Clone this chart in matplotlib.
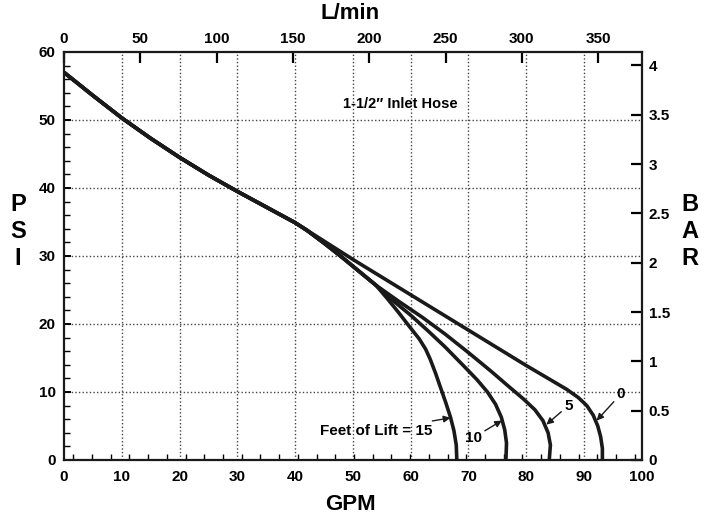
import matplotlib
matplotlib.use('Agg')
import matplotlib.pyplot as plt
import numpy as np

######################################################################

# PUMP CURVE DATA (GPM vs PSI)

trunk_gpm = [0, 5, 10, 15, 20, 25, 30, 35, 40]
trunk_psi = [57.0, 53.6, 50.3, 47.3, 44.5, 41.9, 39.5, 37.2, 34.9]

lift0_gpm = [45, 50, 55, 60, 65, 70, 75, 80, 84, 87, 89, 90.5, 91.6, 92.4, 92.9, 93.2, 93.2]
lift0_psi = [32.2, 29.5, 26.9, 24.3, 21.7, 19.1, 16.5, 13.9, 11.9, 10.4, 9.2, 8.0, 6.6, 5.0, 3.4, 1.7, 0]

bundle_gpm = [42, 45, 48, 50, 52, 54]
bundle_psi = [33.8, 31.9, 29.9, 28.5, 27.1, 25.7]

lift5_gpm = [58, 62, 66, 70, 74, 77, 79.5, 81.5, 82.9, 83.8, 84.2, 84.0]
lift5_psi = [23.3, 21.0, 18.5, 15.8, 13.0, 10.8, 9.0, 7.4, 5.8, 4.0, 2.2, 0]

lift10_gpm = [57, 60, 63, 66, 69, 71.5, 73.3, 74.7, 75.7, 76.3, 76.6, 76.5]
lift10_psi = [23.4, 21.3, 19.0, 16.6, 14.0, 11.8, 10.0, 8.2, 6.3, 4.4, 2.5, 0]

lift15_gpm = [56, 58, 60, 61.5, 62.6, 63.4, 64.3, 65.2, 66.1, 66.9, 67.5, 67.9, 68.0]
lift15_psi = [23.7, 21.6, 19.4, 17.8, 16.3, 14.8, 12.8, 10.6, 8.4, 6.3, 4.3, 2.2, 0]

gpm_ticks = np.arange(0, 101, 10)
psi_ticks = np.arange(0, 61, 10)
lpm_ticks = np.arange(0, 351, 50)
bar_ticks = np.arange(0, 4.01, 0.5)
bar_labels = ['0', '0.5', '1', '1.5', '2', '2.5', '3', '3.5', '4']

LPM_PER_GPM = 3.785411784
PSI_PER_BAR = 14.5037738

######################################################################

narrow = ['Liberation Sans Narrow', 'Liberation Sans', 'DejaVu Sans']
wide = ['Liberation Sans', 'DejaVu Sans']
plt.rcParams['font.family'] = narrow
plt.rcParams['font.weight'] = 'bold'

fig = plt.figure(figsize=(7.16, 5.21), dpi=100)
ax = fig.add_axes([0.0894, 0.1171, 0.8068, 0.7831])

line_kw = dict(color='#1a1a1a', lw=2.6, solid_joinstyle='round', solid_capstyle='butt', zorder=3)

ax.plot(trunk_gpm + lift0_gpm, trunk_psi + lift0_psi, **line_kw)
for gx, gy in [(lift5_gpm, lift5_psi), (lift10_gpm, lift10_psi), (lift15_gpm, lift15_psi)]:
    ax.plot(trunk_gpm + bundle_gpm + gx, trunk_psi + bundle_psi + gy, **line_kw)

ax.set_xlim(0, 100)
ax.set_ylim(0, 60)

# dotted grid
for g in gpm_ticks[1:-1]:
    ax.axvline(g, color='#444444', lw=1.0, ls=(0, (1, 1.6)), zorder=1)
for p in psi_ticks[1:-1]:
    ax.axhline(p, color='#444444', lw=1.0, ls=(0, (1, 1.6)), zorder=1)

for s in ax.spines.values():
    s.set_linewidth(1.6)
    s.set_color('#1a1a1a')

ax.set_xticks(gpm_ticks)
ax.set_xticks(np.arange(1.6, 100, 3.24), minor=True)
ax.set_yticks(psi_ticks)
ax.set_yticks(np.arange(0, 61, 2), minor=True)
ax.tick_params(axis='x', which='major', direction='in', length=0, pad=7, labelsize=11)
ax.tick_params(axis='x', which='minor', direction='in', length=4, width=1.0)
ax.tick_params(axis='y', which='major', direction='in', length=5, width=1.4, pad=6, labelsize=11)
ax.tick_params(axis='y', which='minor', direction='in', length=4, width=1.0)

top = ax.secondary_xaxis('top', functions=(lambda g: g * LPM_PER_GPM, lambda l: l / LPM_PER_GPM))
top.set_xticks(lpm_ticks)
top.tick_params(direction='in', length=8, width=1.6, pad=4, labelsize=11)
top.spines['top'].set_visible(False)

right = ax.secondary_yaxis('right', functions=(lambda p: p / PSI_PER_BAR, lambda b: b * PSI_PER_BAR))
right.set_yticks(bar_ticks)
right.set_yticklabels(bar_labels)
right.tick_params(direction='in', length=8, width=1.6, pad=5, labelsize=11)
right.spines['right'].set_visible(False)

# axis titles
fig.text(0.489, 0.975, 'L/min', ha='center', va='center', fontsize=16, fontweight='bold')
fig.text(0.489, 0.031, 'GPM', ha='center', va='center', fontsize=16, fontweight='bold')
for i, ch in enumerate('PSI'):
    fig.text(0.025, 0.607 - i * 0.052, ch, ha='center', va='center', fontsize=17,
             fontweight='bold', family=wide)
for i, ch in enumerate('BAR'):
    fig.text(0.963, 0.607 - i * 0.052, ch, ha='center', va='center', fontsize=17,
             fontweight='bold', family=wide)

ax.text(58.2, 52.4, '1-1/2\u2033 Inlet Hose', ha='center', va='center', fontsize=10.5,
        fontweight='bold', family=narrow + ['DejaVu Sans'])

# lift annotations
arrow = dict(arrowstyle='-|>', color='#1a1a1a', lw=1.0, mutation_scale=10, shrinkA=0, shrinkB=0)
ax.annotate('Feet of Lift = 15', xy=(66.9, 6.2), xytext=(63.7, 4.3), ha='right', va='center',
            fontsize=11, arrowprops=arrow)
ax.annotate('10', xy=(75.8, 5.8), xytext=(70.9, 3.3), ha='center', va='center',
            fontsize=11, arrowprops=arrow)
ax.annotate('5', xy=(83.5, 5.2), xytext=(87.3, 8.0), ha='center', va='center',
            fontsize=11, arrowprops=arrow)
ax.annotate('0', xy=(92.2, 5.8), xytext=(96.4, 9.7), ha='center', va='center',
            fontsize=11, arrowprops=arrow)

plt.savefig('out.png', dpi=100)
